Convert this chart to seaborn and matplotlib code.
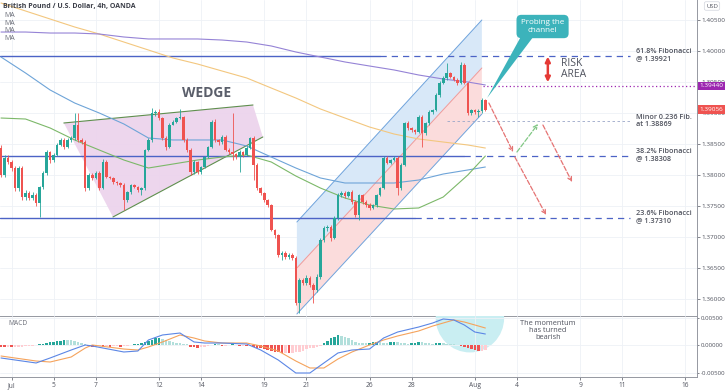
import numpy as np
import matplotlib.pyplot as plt
from matplotlib.patches import Polygon, Ellipse
import seaborn as sns

# ---------------- data ----------------
first_open = 1.38435
close = [1.38000, 1.38274, 1.38210, 1.38113, 1.37790, 1.38113, 1.37645, 1.37710, 1.37629, 1.37677,
         1.37548, 1.37806, 1.38032, 1.38371, 1.38242, 1.38323, 1.38484, 1.38565, 1.38452, 1.38565,
         1.38597, 1.38806, 1.38565, 1.38532, 1.37790, 1.38000, 1.37952, 1.38032, 1.37790, 1.38210,
         1.37968, 1.37952, 1.37887, 1.37871, 1.37839, 1.37597, 1.37726, 1.37839, 1.37806, 1.37758,
         1.37790, 1.38403, 1.38565, 1.39000, 1.39016, 1.38919, 1.38597, 1.38452, 1.38806, 1.38855,
         1.38919, 1.38935, 1.38565, 1.38403, 1.38048, 1.38210, 1.38048, 1.38129, 1.38290, 1.38452,
         1.38855, 1.38565, 1.38532, 1.38613, 1.38403, 1.38371, 1.38339, 1.38290, 1.38371, 1.38323,
         1.38435, 1.38597, 1.38161, 1.37790, 1.37710, 1.37597, 1.37516, 1.37113, 1.37032, 1.36710,
         1.36742, 1.36677, 1.36710, 1.36661, 1.35935, 1.36306, 1.36258, 1.36339, 1.36226, 1.36145,
         1.36355, 1.36952, 1.37145, 1.37161, 1.36984, 1.37306, 1.37677, 1.37710, 1.37661, 1.37726,
         1.37565, 1.37355, 1.37677, 1.37565, 1.37516, 1.37468, 1.37516, 1.37677, 1.37790, 1.38274,
         1.38194, 1.38242, 1.38274, 1.37790, 1.38161, 1.38839, 1.38758, 1.38726, 1.38694, 1.38935,
         1.38677, 1.38839, 1.39016, 1.39048, 1.39290, 1.39484, 1.39565, 1.39645, 1.39581, 1.39532,
         1.39484, 1.39774, 1.39484, 1.39000, 1.39048, 1.39016, 1.39032, 1.39210, 1.39056]
high = [1.3848, 1.3832, 1.3832, 1.3825, 1.3815, 1.3815, 1.3814, 1.3776, 1.3774, 1.3772,
        1.3771, 1.3783, 1.3806, 1.3840, 1.3839, 1.3836, 1.3852, 1.3860, 1.3860, 1.3860,
        1.3863, 1.3900, 1.3900, 1.3859, 1.3856, 1.3803, 1.3803, 1.3806, 1.3806, 1.3826,
        1.3824, 1.3799, 1.3797, 1.3790, 1.3789, 1.3787, 1.3775, 1.3786, 1.3786, 1.3783,
        1.3781, 1.3842, 1.3860, 1.3908, 1.3905, 1.3906, 1.3894, 1.3863, 1.3884, 1.3889,
        1.3894, 1.3906, 1.3895, 1.3859, 1.3843, 1.3824, 1.3823, 1.3815, 1.3831, 1.3847,
        1.3889, 1.3891, 1.3858, 1.3864, 1.3864, 1.3843, 1.3900, 1.3836, 1.3840, 1.3839,
        1.3846, 1.3862, 1.3863, 1.3819, 1.3781, 1.3773, 1.3762, 1.3754, 1.3713, 1.3705,
        1.3678, 1.3677, 1.3674, 1.3674, 1.3669, 1.3634, 1.3634, 1.3638, 1.3637, 1.3625,
        1.3640, 1.3698, 1.3718, 1.3719, 1.3719, 1.3734, 1.3771, 1.3774, 1.3774, 1.3775,
        1.3776, 1.3760, 1.3770, 1.3770, 1.3759, 1.3755, 1.3754, 1.3770, 1.3781, 1.3830,
        1.3831, 1.3826, 1.3830, 1.3830, 1.3819, 1.3886, 1.3887, 1.3878, 1.3875, 1.3896,
        1.3897, 1.3886, 1.3905, 1.3907, 1.3932, 1.3951, 1.3960, 1.3981, 1.3966, 1.3960,
        1.3956, 1.3983, 1.3980, 1.3950, 1.3907, 1.3907, 1.3906, 1.3924, 1.3922]
low = [1.3796, 1.3796, 1.3817, 1.3806, 1.3774, 1.3775, 1.3760, 1.3760, 1.3759, 1.3760,
       1.3750, 1.3732, 1.3777, 1.3800, 1.3820, 1.3821, 1.3830, 1.3846, 1.3842, 1.3843,
       1.3854, 1.3857, 1.3853, 1.3850, 1.3775, 1.3776, 1.3792, 1.3793, 1.3776, 1.3777,
       1.3795, 1.3793, 1.3786, 1.3784, 1.3781, 1.3744, 1.3757, 1.3770, 1.3779, 1.3773,
       1.3768, 1.3776, 1.3838, 1.3854, 1.3895, 1.3889, 1.3857, 1.3840, 1.3843, 1.3880,
       1.3884, 1.3890, 1.3853, 1.3837, 1.3800, 1.3802, 1.3801, 1.3802, 1.3811, 1.3827,
       1.3843, 1.3853, 1.3849, 1.3850, 1.3838, 1.3834, 1.3824, 1.3826, 1.3805, 1.3829,
       1.3830, 1.3842, 1.3792, 1.3776, 1.3767, 1.3757, 1.3749, 1.3709, 1.3699, 1.3668,
       1.3663, 1.3664, 1.3665, 1.3663, 1.3590, 1.3577, 1.3622, 1.3622, 1.3620, 1.3593,
       1.3612, 1.3633, 1.3692, 1.3710, 1.3694, 1.3696, 1.3728, 1.3764, 1.3763, 1.3764,
       1.3754, 1.3732, 1.3727, 1.3754, 1.3749, 1.3743, 1.3745, 1.3749, 1.3766, 1.3777,
       1.3817, 1.3817, 1.3822, 1.3768, 1.3776, 1.3814, 1.3873, 1.3870, 1.3866, 1.3867,
       1.3845, 1.3865, 1.3881, 1.3899, 1.3903, 1.3926, 1.3946, 1.3954, 1.3956, 1.3951,
       1.3945, 1.3946, 1.3946, 1.3897, 1.3896, 1.3898, 1.3893, 1.3900, 1.3903]

# moving averages, sampled every 7 bars
ma_x = [0, 7, 14, 21, 28, 35, 42, 49, 56, 63, 70, 77, 84, 91, 98, 105, 112, 119, 126, 133, 138]
ma_blue = [1.39903, 1.39645, 1.39371, 1.39161, 1.39000, 1.38823, 1.38597, 1.38565, 1.38565, 1.38565,
           1.38468, 1.38290, 1.38113, 1.37952, 1.37871, 1.37871, 1.37871, 1.37919, 1.38016, 1.38081, 1.38129]
ma_green = [1.38919, 1.38903, 1.38758, 1.38565, 1.38403, 1.38242, 1.38113, 1.38177, 1.38242, 1.38290,
            1.38323, 1.38210, 1.37984, 1.37790, 1.37629, 1.37516, 1.37452, 1.37468, 1.37645, 1.38000, 1.38306]
ma_orange = [1.40774, 1.40645, 1.40516, 1.40387, 1.40274, 1.40145, 1.40016, 1.39887, 1.39790, 1.39677,
             1.39565, 1.39403, 1.39242, 1.39065, 1.38919, 1.38774, 1.38661, 1.38581, 1.38532, 1.38484, 1.38435]
ma_purple = [1.40306, 1.40306, 1.40290, 1.40290, 1.40274, 1.40226, 1.40194, 1.40194, 1.40194, 1.40177,
             1.40145, 1.40081, 1.39984, 1.39903, 1.39823, 1.39758, 1.39694, 1.39613, 1.39548, 1.39500, 1.39452]

# MACD panel
macd_x = [0, 10, 14, 20, 24, 26, 35, 39, 42, 46, 51, 55, 58, 63, 70, 74, 79, 84, 88, 92, 96, 100,
          105, 109, 113, 119, 123, 126, 129, 132, 135, 138]
macd_line = [-0.00236, -0.00327, -0.00236, -0.00091, 0.00000, -0.00018, -0.00127, -0.00109, 0.00091,
             0.00182, 0.00218, 0.00055, 0.00036, 0.00036, 0.00018, -0.00091, -0.00273, -0.00509,
             -0.00509, -0.00327, -0.00145, -0.00091, -0.00073, 0.00127, 0.00236, 0.00327, 0.00400,
             0.00473, 0.00455, 0.00364, 0.00236, 0.00200]
signal_line = [-0.00200, -0.00291, -0.00309, -0.00218, -0.00055, 0.00000, -0.00073, -0.00091, -0.00036,
               0.00055, 0.00182, 0.00127, 0.00073, 0.00036, 0.00036, -0.00018, -0.00109, -0.00291,
               -0.00418, -0.00418, -0.00255, -0.00127, 0.00000, 0.00091, 0.00164, 0.00255, 0.00345,
               0.00400, 0.00455, 0.00418, 0.00364, 0.00309]
hist_e4 = [-3, -4, -3, -4, -4, -3, -3, -2, -2,
           -1, 0, 1,
           2, 4, 5, 6, 7, 8, 9, 9, 9,
           7, 5, 3, 1,
           -2, -3, -3, -2, -3, -2, -3, -2, -2, -3, -2,
           -1, 0, 1, 2,
           3, 6, 8, 10, 12, 13, 11, 9, 7, 5, 4,
           3, 2, 1,
           -3, -4, -5, -4, -3,
           -1, 0, 1, 1, -1, -1, 0, 1, 0, -1, -1, -2, -2,
           -3, -5, -6, -8, -9, -11, -12, -13, -14, -14, -15, -14,
           -13, -12, -10, -8, -6, -5, -3, -1,
           4, 8, 12, 15, 18, 17, 15, 12, 9, 6, 4, 3, 3,
           4, 5, 6, 5, 4, 3, 5, 6, 5, 4, 3, 2, 3, 4, 5, 5, 4, 3, 2, 3, 4, 3, 2, 1, 1, 0,
           -2, -4, -6, -8, -9, -10, -10, -9]

tick_bars = [3, 15, 27, 45, 57, 75, 87, 105, 117, 135, 147, 165, 177, 195]
tick_labels = ["Jul", "5", "7", "12", "14", "19", "21", "26", "28", "Aug", "4", "9", "11", "16"]
price_ticks = [1.360, 1.365, 1.370, 1.375, 1.380, 1.385, 1.390, 1.395, 1.400, 1.405]

fib_names = ["61.8% Fibonacci\n@ 1.39921", "38.2% Fibonacci\n@ 1.38308", "23.6% Fibonacci\n@ 1.37310"]
fib_levels = [1.39921, 1.38308, 1.37310]
fib_solid_end = [108, 132, 118]
minor_level = 1.38869
risk_level = 1.39440
last_price = 1.39056

# ---------------- styling ----------------
sns.set_theme(style="white")
plt.rcParams['font.family'] = ['Open Sans', 'DejaVu Sans']

UP, DOWN = '#26a69a', '#ef5350'
GRID = '#eef1f6'
TXT = '#50535e'
FIB = '#4c63c6'

fig = plt.figure(figsize=(7.28, 3.91), dpi=100)
fig.patch.set_facecolor('white')
W = 697 / 728
ax = fig.add_axes([0, 1 - 316 / 391, W, 316 / 391])
axm = fig.add_axes([0, 1 - 377 / 391, W, 61 / 391], sharex=ax)

close = np.asarray(close)
high = np.asarray(high)
low = np.asarray(low)
bars = np.arange(len(close))
opens = np.r_[first_open, close[:-1]]
col = np.where(close >= opens, UP, DOWN)

# channel (behind candles)
x0c, x1c = 84.3, 137.0
up_l, mid_l, lo_l = (1.37242, 1.40500), (1.36500, 1.39726), (1.35758, 1.38984)
ax.add_patch(Polygon([(x0c, up_l[0]), (x1c, up_l[1]), (x1c, mid_l[1]), (x0c, mid_l[0])],
                     closed=True, fc='#d8e8f8', ec='none', zorder=1))
ax.add_patch(Polygon([(x0c, mid_l[0]), (x1c, mid_l[1]), (x1c, lo_l[1]), (x0c, lo_l[0])],
                     closed=True, fc='#fbdcdc', ec='none', zorder=1))
ax.plot([x0c, x1c], up_l, color='#6fa3dc', lw=0.7, zorder=1.5)
ax.plot([x0c, x1c], lo_l, color='#6fa3dc', lw=0.7, zorder=1.5)
ax.plot([x0c, x1c], mid_l, color='#ef9a9a', lw=0.7, zorder=1.5)

# wedge
ax.add_patch(Polygon([(17.9, 1.38839), (71.8, 1.39129), (74.6, 1.38613), (31.9, 1.37323)],
                     closed=True, fc='#ecd2ec', ec='none', alpha=0.9, zorder=1))
ax.plot([17.9, 71.8], [1.38839, 1.39129], color='#5f8f4e', lw=0.8, zorder=1.5)
ax.plot([31.9, 74.6], [1.37323, 1.38613], color='#5f8f4e', lw=0.8, zorder=1.5)
ax.text(58.7, 1.39323, "WEDGE", ha='center', va='center', fontsize=10, color='#5a5e6a', fontweight='bold')

# fibonacci levels
for lvl, end in zip(fib_levels, fib_solid_end):
    ax.plot([-0.3, end], [lvl, lvl], color=FIB, lw=1.0, zorder=2)
    ax.plot([end, 179.2], [lvl, lvl], color=FIB, lw=0.9, dashes=(5, 4), zorder=2)
ax.plot([127, 179.2], [minor_level, minor_level], color='#9aa6c8', lw=0.6, dashes=(3, 3), zorder=2)
ax.plot([137.3, 199], [risk_level, risk_level], color='#9c27b0', lw=0.9, ls=(0, (1, 2)), zorder=2)

for name, lvl in zip(fib_names, fib_levels):
    ax.text(181.0, lvl + 0.0001, name, fontsize=5.2, color=TXT, va='center', ha='left',
            linespacing=1.05, fontweight='semibold')
ax.text(181.0, minor_level + 0.00005, "Minor 0.236 Fib.\nat 1.38869", fontsize=5.2, color=TXT,
        va='center', ha='left', linespacing=1.05, fontweight='semibold')

# moving averages
for vals, c in [(ma_orange, '#f3c77f'), (ma_purple, '#9583d6'), (ma_blue, '#6ea4d8'), (ma_green, '#7cb869')]:
    sns.lineplot(x=ma_x, y=vals, ax=ax, color=c, lw=0.8, zorder=3)

# candles
ax.vlines(bars, low, high, colors=col, lw=0.6, zorder=4)
body = np.maximum(np.abs(close - opens), 0.00004)
ax.bar(bars, body, bottom=np.minimum(opens, close), width=0.72, color=col, zorder=5, lw=0)

# forecast arrows
for (xa, ya), (xb, yb), c in [((139.0, 1.39161), (145.9, 1.38371), '#e57373'),
                              ((147.0, 1.38371), (153.0, 1.38823), '#81c784'),
                              ((154.4, 1.38806), (162.7, 1.37887), '#e57373'),
                              ((146.4, 1.38290), (155.3, 1.37355), '#e57373')]:
    ax.annotate('', xy=(xb, yb), xytext=(xa, ya),
                arrowprops=dict(arrowstyle='->', color=c, lw=0.9, ls='--', mutation_scale=7,
                                shrinkA=0, shrinkB=0), zorder=6)

# risk area
ax.annotate('', xy=(155.8, 1.39910), xytext=(155.8, 1.39495),
            arrowprops=dict(arrowstyle='<|-|>', color='#e53935', lw=1.8, mutation_scale=7,
                            shrinkA=0, shrinkB=0), zorder=6)
ax.text(159.6, 1.39705, "RISK\nAREA", fontsize=7.5, color=TXT, va='center', ha='left', linespacing=1.0)

# callout
TEAL = '#3cb3bb'
ax.add_patch(Polygon([(138.5, 1.39242), (148.2, 1.40240), (151.8, 1.40240)], closed=True,
                     fc=TEAL, ec='none', zorder=7))
ax.text(154.3, 1.40395, "Probing the\nchannel", ha='center', va='center', fontsize=5.8, color='white',
        linespacing=1.1, zorder=8,
        bbox=dict(boxstyle='round,pad=0.55,rounding_size=0.6', fc=TEAL, ec='none'))

# axes cosmetics main
ax.set_xlim(-0.285, 198.3)
ax.set_ylim(1.357258, 1.408226)
ax.set_xticks(tick_bars)
ax.set_yticks(price_ticks)
ax.set_yticklabels([f"{p:.5f}" for p in price_ticks])
ax.yaxis.tick_right()
ax.tick_params(axis='y', labelsize=4.6, colors=TXT, length=2, width=0.5, pad=1.5)
ax.tick_params(axis='x', labelbottom=False, length=0)
ax.grid(True, color=GRID, lw=0.6)
for s in ['top', 'left']:
    ax.spines[s].set_visible(False)
ax.spines['right'].set_color('#9598a1')
ax.spines['right'].set_linewidth(0.7)
ax.spines['bottom'].set_color('#9598a1')
ax.spines['bottom'].set_linewidth(0.7)
ax.set_xlabel('')
ax.set_ylabel('')

ax.text(0.004, 0.978, "British Pound / U.S. Dollar, 4h, OANDA", transform=ax.transAxes,
        fontsize=5, fontweight='bold', color='#3b3e48', va='center', ha='left')
for yy in [0.9525, 0.927, 0.902, 0.877]:
    ax.text(0.006, yy, "MA", transform=ax.transAxes, fontsize=5, color='#6b6e78', va='center', ha='left')

ytr = ax.get_yaxis_transform()
ax.text(1.004, risk_level, f"{risk_level:.5f}", transform=ytr, fontsize=4.6, color='white', va='center',
        ha='left', clip_on=False, zorder=9, bbox=dict(boxstyle='square,pad=0.25', fc='#9c27b0', ec='none'))
ax.text(1.004, last_price, f"{last_price:.5f}", transform=ytr, fontsize=4.6, color='white', va='center',
        ha='left', clip_on=False, zorder=9, bbox=dict(boxstyle='square,pad=0.25', fc='#ef5350', ec='none'))
fig.text(712 / 728, 1 - 6 / 391, "USD", fontsize=4.2, color=TXT, ha='center', va='center',
         bbox=dict(boxstyle='round,pad=0.3,rounding_size=0.3', fc='white', ec='#d1d4dc', lw=0.5))

# ---------------- MACD ----------------
hist = np.asarray(hist_e4) * 1e-4
hcol = []
for i, h in enumerate(hist):
    prev = hist[i - 1] if i > 0 else 0
    if h >= 0:
        hcol.append('#26a69a' if h > prev else '#b2dfdb')
    else:
        hcol.append('#ef5350' if h < prev else '#ffcdd2')

axm.add_patch(Ellipse((133.6, 0.0049), width=19.5, height=0.0125, fc='#c9eef2', ec='none', zorder=0.5))
axm.bar(bars, hist, width=0.72, color=hcol, zorder=2, lw=0)
sns.lineplot(x=macd_x, y=signal_line, ax=axm, color='#f5a35c', lw=0.8, zorder=3)
sns.lineplot(x=macd_x, y=macd_line, ax=axm, color='#5b86e5', lw=0.8, zorder=3)
axm.text(155.8, 0.0027, "The momentum\nhas turned\nbearish", fontsize=5.3, color=TXT, ha='center',
         va='center', linespacing=1.0)
axm.text(0.012, 0.87, "MACD", transform=axm.transAxes, fontsize=4.8, color='#6b6e78', va='center')

axm.set_ylim(-0.005818, 0.005273)
axm.set_yticks([-0.005, 0.0, 0.005])
axm.set_yticklabels(["-0.00500", "0.00000", "0.00500"])
axm.yaxis.tick_right()
axm.set_xticks(tick_bars)
axm.set_xticklabels(tick_labels)
axm.tick_params(axis='y', labelsize=4.4, colors=TXT, length=1.5, width=0.5, pad=1)
axm.tick_params(axis='x', labelsize=4.8, colors=TXT, length=2, width=0.5, pad=1.5, bottom=True)
axm.grid(True, color=GRID, lw=0.6)
for s in ['top', 'left']:
    axm.spines[s].set_visible(False)
for s in ['right', 'bottom']:
    axm.spines[s].set_color('#9598a1')
    axm.spines[s].set_linewidth(0.7)
axm.set_xlabel('')
axm.set_ylabel('')
axm.set_facecolor('none')

fig.savefig('out.png', dpi=100)
